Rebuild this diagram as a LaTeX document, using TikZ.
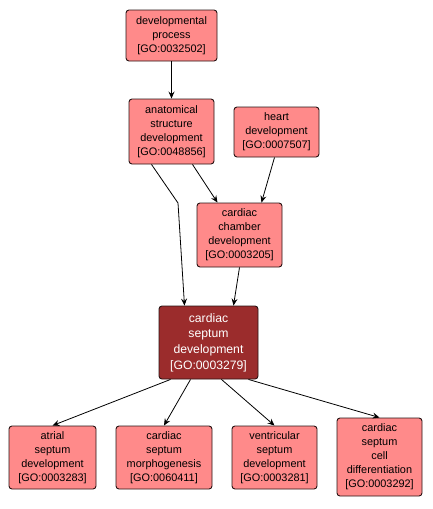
\documentclass[tikz,border=0pt]{standalone}
\usepackage{fontspec}
\setmainfont{Liberation Sans}
\usetikzlibrary{arrows.meta, positioning}
\definecolor{goterm}{RGB}{255,138,138}
\definecolor{goquery}{RGB}{155,44,44}
\definecolor{goedge}{RGB}{40,20,20}

\begin{document}
\begin{tikzpicture}[
    x=1pt, y=-1pt,
    term/.style={rectangle, draw=goedge, fill=goterm, line width=0.9pt, rounded corners=3pt, align=center, inner sep=1pt, font=\fontsize{10.9}{14}\selectfont},
    query/.style={term, fill=goquery, text=white, font=\fontsize{12.2}{15.7}\selectfont},
    arrow/.style={-{Stealth[length=7pt, width=6pt, inset=2.5pt]}, line width=0.8pt, draw=black}
]
\useasboundingbox (0,0) rectangle (433,509);

\node[term, minimum width=91pt, minimum height=51pt] (devproc) at (171.5,35.5) {developmental\\process\\{[GO:0032502]}};
\node[term, minimum width=85pt, minimum height=65pt] (anatdev) at (171.5,131.5) {anatomical\\structure\\development\\{[GO:0048856]}};
\node[term, minimum width=85pt, minimum height=50pt] (heartdev) at (276.5,132) {heart\\development\\{[GO:0007507]}};
\node[term, minimum width=85pt, minimum height=64pt] (chamberdev) at (239.5,235) {cardiac\\chamber\\development\\{[GO:0003205]}};
\node[query, minimum width=99pt, minimum height=73pt] (septumdev) at (208.5,342.5) {cardiac\\septum\\development\\{[GO:0003279]}};
\node[term, minimum width=87pt, minimum height=63pt] (atrialdev) at (52.5,457.5) {atrial\\septum\\development\\{[GO:0003283]}};
\node[term, minimum width=96pt, minimum height=63pt] (septummorph) at (164,457.5) {cardiac\\septum\\morphogenesis\\{[GO:0060411]}};
\node[term, minimum width=85pt, minimum height=63pt] (ventdev) at (274.5,457.5) {ventricular\\septum\\development\\{[GO:0003281]}};
\node[term, minimum width=85pt, minimum height=78pt] (septumcell) at (379.5,457) {cardiac\\septum\\cell\\differentiation\\{[GO:0003292]}};

\coordinate (bendpt) at (178,203);

\draw[arrow] (devproc) -- (anatdev);
\draw[line width=0.8pt] ([xshift=-20pt]anatdev.south) -- (bendpt);
\draw[arrow] (bendpt) -- ([xshift=-24pt]septumdev.north);
\draw[arrow] ([xshift=21pt]anatdev.south) -- ([xshift=-22pt]chamberdev.north);
\draw[arrow] ([xshift=-2pt]heartdev.south) -- ([xshift=22pt]chamberdev.north);
\draw[arrow] (chamberdev.south) -- ([xshift=25pt]septumdev.north);
\draw[arrow] ([xshift=-38pt]septumdev.south) -- (atrialdev.north);
\draw[arrow] ([xshift=-18pt]septumdev.south) -- (septummorph.north);
\draw[arrow] ([xshift=13pt]septumdev.south) -- (ventdev.north);
\draw[arrow] ([xshift=40pt]septumdev.south) -- (septumcell.north);

\end{tikzpicture}
\end{document}
